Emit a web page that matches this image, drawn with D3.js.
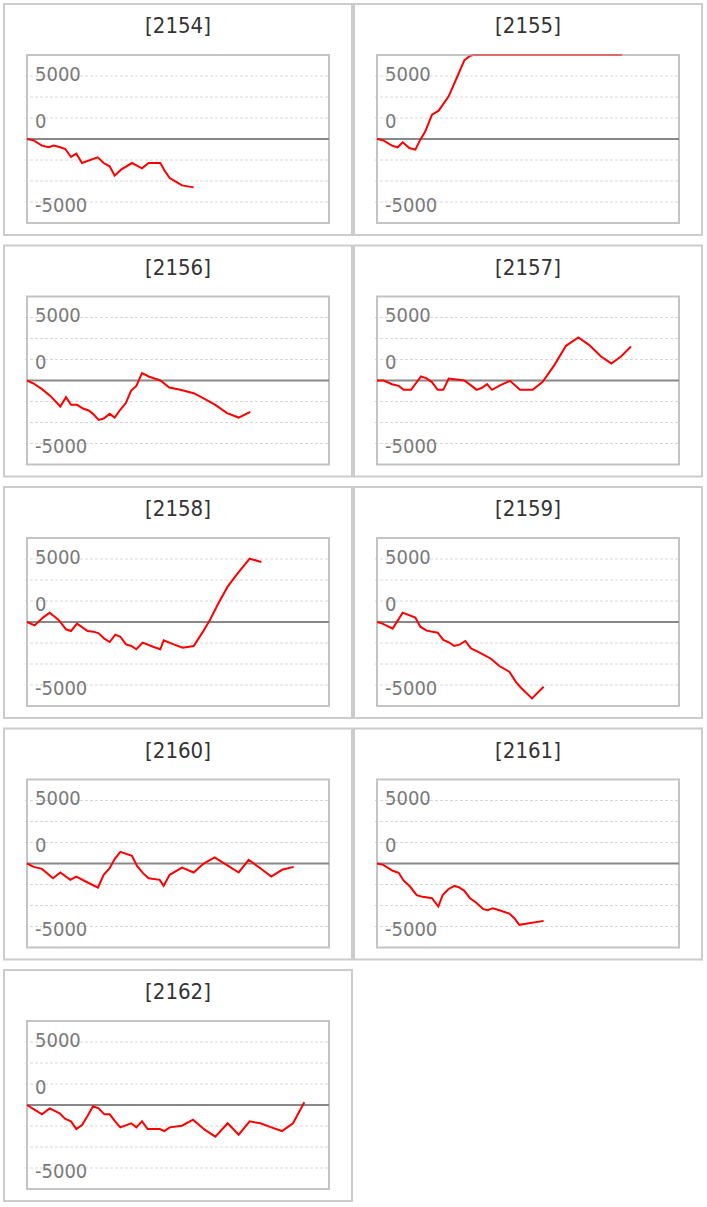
<!DOCTYPE html>
<html>
<head>
<meta charset="utf-8">
<script src="https://cdn.jsdelivr.net/npm/d3@7/dist/d3.min.js"></script>
<style>
  html, body { margin: 0; padding: 0; background: #fff; }
  svg { display: block; }
  .title { font-family: "DejaVu Sans", "Liberation Sans", sans-serif; font-stretch: condensed; }
  .tick-label { font-family: "DejaVu Sans", "Liberation Sans", sans-serif; font-stretch: condensed; }
</style>
</head>
<body>
<script>
// ---------------- data ----------------
const machineIds = ["2154", "2155", "2156", "2157", "2158", "2159", "2160", "2161", "2162"];

const games2154 = [0,200,450,650,800,1000,1150,1320,1480,1650,2120,2300,2480,2630,2820,3150,3300,3450,3650,4000,4120,4280,4450,4650,5000];
const diff2154  = [0,-160,-790,-990,-790,-990,-1190,-2140,-1750,-2860,-2180,-2860,-3250,-4370,-3650,-2860,-3180,-3490,-2860,-2860,-3730,-4650,-5040,-5520,-5760];

const games2155 = [0,190,450,620,770,970,1150,1300,1450,1650,1850,2150,2390,2620,2790,2900,7350];
const diff2155  = [0,-160,-790,-990,-400,-1070,-1270,-80,910,2900,3370,5080,7260,9370,9900,10000,10000];

const games2156 = [0,200,450,700,1000,1170,1320,1500,1680,1850,1980,2150,2300,2480,2630,2780,2970,3120,3280,3450,3650,4000,4270,4600,5000,5300,5650,6000,6350,6700];
const diff2156  = [0,-360,-1030,-1830,-3100,-1990,-2900,-2900,-3340,-3570,-3970,-4690,-4530,-3970,-4410,-3570,-2660,-1230,-640,870,480,0,-830,-1110,-1510,-2140,-2900,-3890,-4410,-3730];

const games2157 = [0,200,450,650,800,1020,1320,1470,1640,1820,1990,2150,2620,2800,2990,3150,3300,3450,3720,3990,4290,4670,4970,5320,5670,6040,6370,6720,7030,7320,7620];
const diff2157  = [0,0,-440,-640,-1110,-1110,480,280,-160,-1110,-1110,240,0,-520,-1110,-870,-440,-1110,-520,-40,-1110,-1110,-160,1830,4130,5120,4210,2860,2030,2860,4050];

const games2158 = [0,230,480,680,950,1170,1320,1500,1820,2000,2150,2320,2480,2650,2800,2970,3130,3280,3470,3800,4000,4100,4400,4670,5000,5280,5500,5750,6020,6320,6680,7030];
const diff2158  = [0,-400,520,1110,240,-870,-1070,-200,-1070,-1150,-1350,-1990,-2380,-1510,-1750,-2660,-2860,-3250,-2460,-2980,-3250,-2180,-2660,-3060,-2860,-1150,320,2300,4210,5800,7540,7150];

const games2159 = [0,150,470,770,1150,1300,1490,1820,1990,2170,2320,2490,2650,2820,3020,3220,3420,3670,3970,4170,4320,4650,5000];
const diff2159  = [0,-160,-790,1110,520,-560,-1030,-1270,-2140,-2460,-2860,-2660,-2260,-3140,-3530,-3930,-4370,-5240,-5920,-7150,-7820,-9090,-7700];

const games2160 = [0,200,450,780,1000,1300,1480,1820,2130,2300,2480,2630,2800,3150,3300,3480,3650,3980,4100,4280,4650,5000,5300,5630,6000,6350,6650,7000,7330,7650,8000];
const diff2160  = [0,-400,-640,-1750,-1070,-1950,-1550,-2260,-2860,-1350,-560,520,1390,910,-280,-1150,-1750,-1950,-2660,-1350,-480,-1070,0,720,-200,-1070,440,-560,-1550,-750,-400];

const games2161 = [0,190,470,650,790,990,1190,1370,1650,1840,1970,2140,2320,2470,2620,2790,2970,3190,3320,3470,3670,3970,4120,4270,5000];
const diff2161  = [0,-160,-870,-1110,-1990,-2740,-3770,-3970,-4130,-5120,-3770,-3060,-2660,-2860,-3250,-4130,-4650,-5440,-5560,-5320,-5560,-5960,-6510,-7300,-6830];

const games2162 = [0,200,450,680,980,1150,1320,1480,1650,1820,1980,2150,2320,2480,2650,2800,3130,3280,3450,3620,3980,4120,4280,4650,4980,5330,5650,6020,6350,6680,7000,7330,7650,7980,8320];
const diff2162  = [0,-480,-1110,-400,-990,-1670,-1950,-2860,-2380,-1270,-160,-400,-1110,-1110,-1990,-2660,-2180,-2660,-1950,-2860,-2860,-3100,-2660,-2460,-1750,-2940,-3770,-2180,-3530,-1950,-2180,-2660,-3100,-2180,320];

const gamesList = [games2154, games2155, games2156, games2157, games2158, games2159, games2160, games2161, games2162];
const diffList  = [diff2154, diff2155, diff2156, diff2157, diff2158, diff2159, diff2160, diff2161, diff2162];

const gridValues = [7500, 5000, 2500, -2500, -5000, -7500];
const tickValues = [7800, 2180, -7800];
const tickLabels = ["5000", "0", "-5000"];
const xDomain = [0, 9060];
const yDomain = [-10000, 10000];

// ---------------- layout ----------------
const W = 707, H = 1207;
const panelW = 350, panelH = 233;
const colLeft = [3, 353];
const rowTop = i => 3 + i * 241.5;
const frame = { left: 24, right: 326, top: 52, bottom: 220 };

const svg = d3.select("body").append("svg")
  .attr("width", W).attr("height", H)
  .attr("viewBox", `0 0 ${W} ${H}`);

svg.append("rect").attr("width", W).attr("height", H).attr("fill", "#fff");

const x = d3.scaleLinear().domain(xDomain).range([frame.left, frame.right]);
const y = d3.scaleLinear().domain(yDomain).range([frame.bottom, frame.top]);

const defs = svg.append("defs");
// interior of the plot frame
defs.append("clipPath").attr("id", "plotClip")
  .append("rect")
  .attr("x", frame.left - 3).attr("y", frame.top + 1)
  .attr("width", frame.right - frame.left + 3).attr("height", frame.bottom - frame.top - 2);
// the frame's top / bottom border bands (line is half-clipped there)
const edgeClip = defs.append("clipPath").attr("id", "edgeClip");
edgeClip.append("rect")
  .attr("x", frame.left).attr("y", frame.top - 1)
  .attr("width", frame.right - frame.left).attr("height", 2);
edgeClip.append("rect")
  .attr("x", frame.left).attr("y", frame.bottom - 1)
  .attr("width", frame.right - frame.left).attr("height", 2);

const line = d3.line().x(d => x(d[0])).y(d => y(d[1]));

machineIds.forEach((id, i) => {
  const col = i % 2, row = Math.floor(i / 2);
  const g = svg.append("g").attr("transform", `translate(${colLeft[col]},${rowTop(row)})`);

  // outer panel border
  g.append("rect")
    .attr("x", 1).attr("y", 1)
    .attr("width", panelW - 2).attr("height", panelH - 2)
    .attr("fill", "#fff").attr("stroke", "#cccccc").attr("stroke-width", 2);

  // title
  g.append("text").attr("class", "title")
    .attr("x", panelW / 2).attr("y", 30)
    .attr("text-anchor", "middle")
    .attr("font-size", 22).attr("fill", "#333")
    .text(`[${id}]`);

  // dashed gridlines
  g.selectAll("line.grid").data(gridValues).enter().append("line")
    .attr("class", "grid")
    .attr("x1", frame.left - 2).attr("x2", frame.right)
    .attr("y1", d => y(d)).attr("y2", d => y(d))
    .attr("stroke", "#d8d8d8").attr("stroke-width", 1)
    .attr("stroke-dasharray", "3,2");

  // frame
  g.append("rect")
    .attr("x", frame.left).attr("y", frame.top)
    .attr("width", frame.right - frame.left).attr("height", frame.bottom - frame.top)
    .attr("fill", "none").attr("stroke", "#c4c4c4").attr("stroke-width", 2);

  // zero line
  g.append("line")
    .attr("x1", frame.left).attr("x2", frame.right)
    .attr("y1", y(0)).attr("y2", y(0))
    .attr("stroke", "#888").attr("stroke-width", 2);

  // tick labels
  g.selectAll("text.tick-label").data(tickValues).enter().append("text")
    .attr("class", "tick-label")
    .attr("x", frame.left + 8)
    .attr("y", d => y(d) + 7.3)
    .attr("font-size", 20).attr("fill", "#7a7a7a")
    .text((d, k) => tickLabels[k]);

  // series line
  const pts = gamesList[i].map((gm, k) => [gm, diffList[i][k]]);
  const dPath = line(pts);
  g.append("path")
    .attr("clip-path", "url(#edgeClip)")
    .attr("d", dPath)
    .attr("fill", "none").attr("stroke", "#ff0000").attr("stroke-opacity", 0.45)
    .attr("stroke-width", 2);
  g.append("path")
    .attr("clip-path", "url(#plotClip)")
    .attr("d", dPath)
    .attr("fill", "none").attr("stroke", "#ff0000").attr("stroke-width", 2);
});
</script>
</body>
</html>
